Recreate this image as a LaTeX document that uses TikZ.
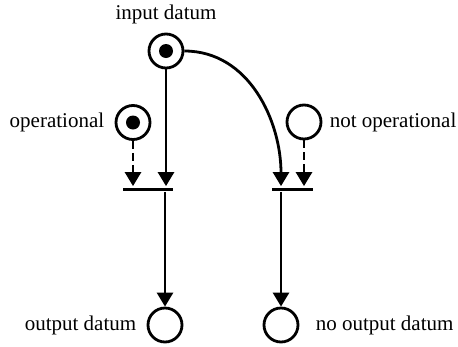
\documentclass[tikz,border=0pt]{standalone}
\usepackage{fontspec}
\setmainfont{Liberation Serif}
\usetikzlibrary{arrows.meta,positioning}
\begin{document}
\begin{tikzpicture}[x=1pt,y=-1pt,
  line width=2.8pt,
  >={Triangle[length=14pt,width=16pt]},
  place/.style={circle,draw,line width=2.8pt,minimum size=34pt,inner sep=0pt},
  token/.style={circle,fill,minimum size=14pt,inner sep=0pt},
  transition/.style={rectangle,fill,minimum height=3pt,inner sep=0pt},
  lbl/.style={font=\fontsize{21}{25}\selectfont,inner sep=0pt},
  inhib/.style={dash pattern=on 8pt off 4pt}]
\useasboundingbox (0,0) rectangle (458,346);

% places
\node[place] (in)   at (166,51)  {};
\node[token]        at (in.center) {};
\node[place] (op)   at (133,122.5) {};
\node[token]        at (op.center) {};
\node[place] (nop)  at (304,122) {};
\node[place] (out)  at (165,325) {};
\node[place] (nout) at (281,325) {};

% transitions
\node[transition,minimum width=50pt] (t1) at (148,189) {};
\node[transition,minimum width=41pt] (t2) at (292.5,189) {};

% labels
\node[lbl,above=7pt of in] (lin) {input datum};
\node[lbl,left=9pt of op] (lop) {operational};
\node[lbl,right=6pt of nop] (lnop) {not operational};
\node[lbl,left=9pt of out] (lout) {output datum};
\node[lbl,right=15pt of nout] (lnout) {no output datum};

% arcs
\coordinate (t1a) at (t1.north -| in);
\coordinate (t1b) at (t1.north -| op);
\coordinate (t2a) at (t2.north -| nout);
\coordinate (t2b) at (t2.north -| nop);
\draw[->] (in) -- (t1a);
\draw[->,inhib] (op) -- (t1b);
\draw[->] (in.east) to[out=0,in=90] (t2a);
\draw[->,inhib] (nop) -- (t2b);
\draw[->] (t1.south -| out) -- (out);
\draw[->] (t2.south -| nout) -- (nout);
\end{tikzpicture}
\end{document}
